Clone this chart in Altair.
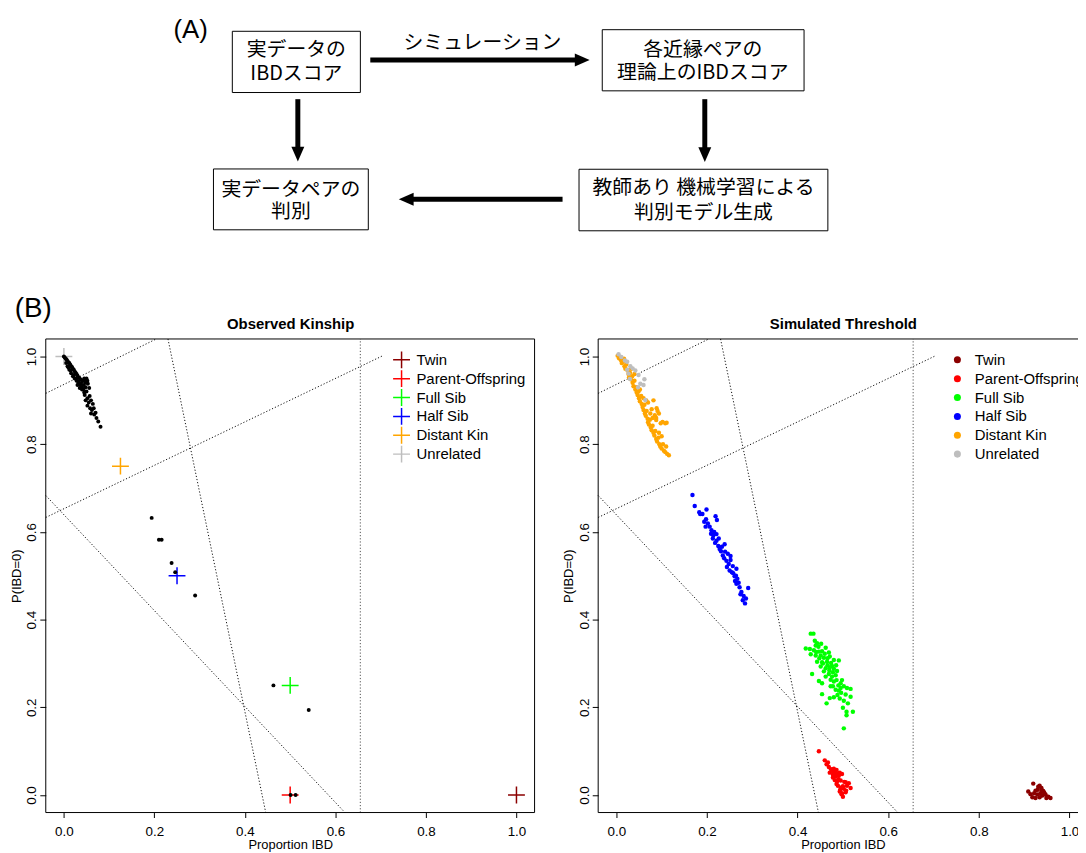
import altair as alt
import pandas as pd

# ---------------- (A) flowchart (page-pixel diagram coordinates) ----------------
box_x0 = [234, 606.7, 215, 583.3]
box_x1 = [363, 810, 371, 834]
box_y0 = [28.3, 26.7, 167, 167.3]
box_y1 = [90, 88.3, 228.3, 229.3]

flow_text = ["実データの", "IBDスコア", "各近縁ペアの", "理論上のIBDスコア",
             "実データペアの", "判別", "教師あり 機械学習による", "判別モデル生成",
             "シミュレーション"]
flow_text_x = [298.5, 298.5, 708, 708, 293, 293, 708.7, 708.7, 486]
flow_text_y = [46.7, 71.7, 46.7, 70, 188, 210.7, 186.7, 211.7, 40]

shaft_x0 = [373, 300, 710, 566.7]
shaft_y0 = [57.3, 96.7, 96.7, 197.5]
shaft_x1 = [581, 300, 710, 414.7]
shaft_y1 = [57.3, 146.5, 147, 197.5]

head_x = [594, 300, 710, 401.7]
head_y = [57.3, 159.5, 160, 197.5]
head_path = ["M0,0L-2.3,-1L-2.3,1Z", "M0,0L-1,-2.3L1,-2.3Z",
             "M0,0L-1,-2.3L1,-2.3Z", "M0,0L2.3,-1L2.3,1Z"]

panel_tags = ["(A)", "(B)"]
panel_tag_x = [192, 33.5]
panel_tag_y = [27.5, 308.3]
panel_tag_size = [26, 28]

# ---------------- (B) data ----------------
relations = ["Twin", "Parent-Offspring", "Full Sib", "Half Sib", "Distant Kin", "Unrelated"]
rel_colors = ["#8B0000", "#FF0000", "#00FF00", "#0000FF", "#FFA500", "#BEBEBE"]

# theoretical expectations (crosses)
theory_x = [1.0, 0.5, 0.5, 0.25, 0.125, 0.0]
theory_y = [0.0, 0.0, 0.25, 0.5, 0.75, 1.0]

# observed pairs
obs_x = [0.000, 0.002, 0.004, 0.006, 0.008, 0.010, 0.012, 0.014, 0.016, 0.018, 0.020, 0.022,
         0.024, 0.026, 0.028, 0.030, 0.032, 0.035, 0.038, 0.041, 0.045, 0.050, 0.052, 0.048,
         0.044, 0.040, 0.036, 0.032, 0.028, 0.024, 0.020, 0.016, 0.012, 0.008, 0.005, 0.010,
         0.015, 0.022, 0.027, 0.033, 0.038, 0.043, 0.048, 0.053, 0.056, 0.050, 0.046, 0.052,
         0.057, 0.048, 0.055, 0.060, 0.052, 0.058, 0.064, 0.062, 0.066, 0.060, 0.067, 0.070,
         0.072, 0.076, 0.081, 0.040, 0.035, 0.030, 0.045, 0.042, 0.047,
         0.194, 0.210, 0.216, 0.238, 0.246, 0.290, 0.463, 0.541, 0.501, 0.512]
obs_y = [1.000, 0.998, 0.995, 0.993, 0.990, 0.987, 0.985, 0.982, 0.978, 0.976, 0.972, 0.970,
         0.966, 0.963, 0.960, 0.957, 0.953, 0.950, 0.947, 0.944, 0.950, 0.950, 0.945, 0.940,
         0.935, 0.930, 0.935, 0.940, 0.945, 0.950, 0.955, 0.962, 0.970, 0.978, 0.985, 0.975,
         0.968, 0.958, 0.950, 0.943, 0.938, 0.925, 0.930, 0.938, 0.928, 0.920, 0.912, 0.905,
         0.910, 0.900, 0.895, 0.900, 0.888, 0.882, 0.892, 0.878, 0.882, 0.870, 0.868, 0.872,
         0.860, 0.852, 0.840, 0.925, 0.928, 0.935, 0.918, 0.945, 0.945,
         0.632, 0.582, 0.582, 0.529, 0.508, 0.455, 0.250, 0.194, 0.000, 0.000]

# simulated pairs
twin_x = [0.920, 0.909, 0.914, 0.918, 0.925, 0.931, 0.934, 0.939, 0.929, 0.940, 0.947, 0.953,
          0.958, 0.944, 0.922, 0.934, 0.925, 0.936, 0.949, 0.930, 0.942, 0.938]
twin_y = [0.026, 0.008, 0.002, -0.005, 0.010, 0.019, 0.021, 0.011, 0.001, -0.001, 0.001, -0.004,
          -0.007, 0.006, 0.004, -0.005, -0.007, 0.004, -0.007, 0.012, 0.009, 0.016]

po_x = [0.447, 0.460, 0.464, 0.469, 0.474, 0.480, 0.486, 0.493, 0.471, 0.478, 0.484, 0.491,
        0.498, 0.482, 0.487, 0.495, 0.506, 0.513, 0.517, 0.489, 0.496, 0.502, 0.493, 0.498,
        0.500, 0.506, 0.509, 0.484, 0.476, 0.467, 0.478, 0.490, 0.486, 0.494, 0.500, 0.507,
        0.480, 0.489, 0.497, 0.503]
po_y = [0.100, 0.079, 0.070, 0.064, 0.059, 0.054, 0.057, 0.051, 0.051, 0.046, 0.042, 0.044,
        0.048, 0.034, 0.031, 0.033, 0.029, 0.027, 0.016, 0.021, 0.017, 0.014, 0.008, 0.004,
        -0.004, 0.006, 0.021, 0.048, 0.055, 0.074, 0.040, 0.036, 0.025, 0.012, 0.020, 0.010,
        0.060, 0.048, 0.002, 0.030]

fs_x = [0.429, 0.435, 0.443, 0.440, 0.418, 0.427, 0.436, 0.447, 0.454, 0.462, 0.469, 0.429,
        0.440, 0.451, 0.458, 0.471, 0.480, 0.491, 0.443, 0.454, 0.465, 0.474, 0.451, 0.462,
        0.471, 0.480, 0.487, 0.432, 0.458, 0.469, 0.476, 0.484, 0.447, 0.454, 0.473, 0.480,
        0.495, 0.502, 0.509, 0.517, 0.473, 0.484, 0.491, 0.496, 0.454, 0.506, 0.517, 0.471,
        0.480, 0.493, 0.502, 0.511, 0.464, 0.500, 0.508, 0.522, 0.508, 0.502,
        0.438, 0.446, 0.452, 0.460, 0.448, 0.466, 0.476, 0.470, 0.462, 0.478, 0.486, 0.490,
        0.498, 0.488, 0.495, 0.478, 0.466, 0.456, 0.441, 0.485]
fs_y = [0.368, 0.368, 0.346, 0.341, 0.334, 0.333, 0.330, 0.327, 0.328, 0.336, 0.325, 0.321,
        0.318, 0.318, 0.313, 0.316, 0.308, 0.307, 0.304, 0.303, 0.304, 0.301, 0.293, 0.289,
        0.291, 0.288, 0.283, 0.276, 0.282, 0.276, 0.270, 0.273, 0.260, 0.255, 0.263, 0.259,
        0.255, 0.248, 0.244, 0.242, 0.248, 0.240, 0.238, 0.233, 0.230, 0.229, 0.224, 0.221,
        0.223, 0.220, 0.215, 0.209, 0.209, 0.199, 0.190, 0.190, 0.182, 0.152,
        0.352, 0.338, 0.345, 0.322, 0.312, 0.296, 0.294, 0.284, 0.270, 0.280, 0.262, 0.250,
        0.262, 0.228, 0.244, 0.248, 0.312, 0.300, 0.326, 0.296]

hs_x = [0.168, 0.173, 0.199, 0.185, 0.190, 0.219, 0.222, 0.194, 0.202, 0.197, 0.210, 0.216,
        0.221, 0.213, 0.221, 0.239, 0.225, 0.228, 0.246, 0.235, 0.243, 0.248, 0.257, 0.265,
        0.255, 0.261, 0.267, 0.265, 0.272, 0.291, 0.276, 0.281, 0.284, 0.279,
        0.206, 0.214, 0.218, 0.231, 0.238, 0.252, 0.244, 0.250, 0.258, 0.262, 0.270, 0.274,
        0.286, 0.226, 0.233, 0.240, 0.209, 0.198, 0.183, 0.252, 0.264]
hs_y = [0.684, 0.659, 0.651, 0.641, 0.641, 0.636, 0.627, 0.623, 0.619, 0.612, 0.604, 0.600,
        0.595, 0.585, 0.580, 0.572, 0.568, 0.561, 0.550, 0.546, 0.534, 0.527, 0.522, 0.516,
        0.508, 0.499, 0.493, 0.482, 0.474, 0.472, 0.463, 0.454, 0.437, 0.444,
        0.612, 0.592, 0.575, 0.556, 0.540, 0.536, 0.520, 0.512, 0.506, 0.488, 0.484, 0.458,
        0.448, 0.585, 0.566, 0.555, 0.596, 0.629, 0.645, 0.545, 0.500]

dk_x = [0.003, 0.006, 0.010, 0.012, 0.015, 0.018, 0.020, 0.022, 0.025, 0.027, 0.030, 0.028,
        0.032, 0.035, 0.036, 0.038, 0.040, 0.042, 0.044, 0.045, 0.047, 0.049, 0.050, 0.052,
        0.055, 0.056, 0.058, 0.060, 0.062, 0.063, 0.065, 0.067, 0.069, 0.070, 0.072, 0.074,
        0.076, 0.078, 0.080, 0.082, 0.084, 0.086, 0.088, 0.090, 0.093, 0.095, 0.097, 0.100,
        0.103, 0.105, 0.108, 0.112, 0.116, 0.070, 0.078, 0.085, 0.088, 0.098, 0.102, 0.080,
        0.060, 0.033, 0.017, 0.040, 0.052, 0.066, 0.075, 0.094, 0.100, 0.110,
        0.082, 0.089, 0.091, 0.111, 0.108, 0.088, 0.094]
dk_y = [1.002, 0.996, 0.992, 0.985, 0.988, 0.978, 0.972, 0.982, 0.968, 0.960, 0.963, 0.952,
        0.948, 0.955, 0.940, 0.932, 0.945, 0.925, 0.930, 0.918, 0.912, 0.920, 0.905, 0.898,
        0.910, 0.892, 0.885, 0.878, 0.890, 0.870, 0.865, 0.876, 0.858, 0.850, 0.845, 0.856,
        0.838, 0.832, 0.842, 0.826, 0.820, 0.830, 0.812, 0.806, 0.815, 0.800, 0.795, 0.790,
        0.800, 0.785, 0.782, 0.778, 0.775, 0.895, 0.880, 0.866, 0.860, 0.848, 0.851, 0.860,
        0.905, 0.972, 0.995, 0.960, 0.925, 0.900, 0.870, 0.826, 0.818, 0.795,
        0.900, 0.882, 0.876, 0.849, 0.848, 0.855, 0.870]

un_x = [0.005, 0.011, 0.019, 0.024, 0.031, 0.036, 0.042, 0.049, 0.062, 0.027, 0.048, 0.064,
        0.024, 0.030, 0.053, 0.060]
un_y = [1.005, 0.999, 0.991, 0.988, 0.978, 0.973, 0.968, 0.958, 0.948, 0.961, 0.930, 0.901,
        0.970, 0.949, 0.938, 0.935]

# classification threshold lines (segment end points, in data units)
thr_x = [0.655, 0.230, -0.04, -0.04, -0.04]
thr_y = [-0.04, 1.04, 0.683, 0.633, 0.916]
thr_x2 = [0.655, 0.446, 0.621, 0.705, 0.204]
thr_y2 = [1.04, -0.04, -0.04, 1.002, 1.04]
thr_col = ["#555555", "#111111", "#111111", "#111111", "#111111"]

# ---------------- frames ----------------
boxes = pd.DataFrame({"x0": box_x0, "x1": box_x1, "y0": box_y0, "y1": box_y1})
texts = pd.DataFrame({"t": flow_text, "x": flow_text_x, "y": flow_text_y})
shafts = pd.DataFrame({"x": shaft_x0, "y": shaft_y0, "x2": shaft_x1, "y2": shaft_y1})
heads = pd.DataFrame({"x": head_x, "y": head_y, "p": head_path})
tags = pd.DataFrame({"t": panel_tags, "x": panel_tag_x, "y": panel_tag_y, "s": panel_tag_size})

theory = pd.DataFrame({"rel": relations, "x": theory_x, "y": theory_y})
obs = pd.DataFrame({"x": obs_x, "y": obs_y})
sim = pd.concat([
    pd.DataFrame({"rel": "Twin", "x": twin_x, "y": twin_y}),
    pd.DataFrame({"rel": "Parent-Offspring", "x": po_x, "y": po_y}),
    pd.DataFrame({"rel": "Full Sib", "x": fs_x, "y": fs_y}),
    pd.DataFrame({"rel": "Half Sib", "x": hs_x, "y": hs_y}),
    pd.DataFrame({"rel": "Distant Kin", "x": dk_x, "y": dk_y}),
    pd.DataFrame({"rel": "Unrelated", "x": un_x, "y": un_y}),
], ignore_index=True)
thr = pd.DataFrame({"x": thr_x, "y": thr_y, "x2": thr_x2, "y2": thr_y2, "c": thr_col})
frame = pd.DataFrame({"x0": [-0.04], "x1": [1.04], "y0": [-0.04], "y1": [1.04]})

W, H = 1078, 845
FONT = "Liberation Sans"
JP = "Noto Sans CJK JP"

fx = alt.Scale(domain=[8, 8 + W], range=[0, W], nice=False, zero=False)
fy = alt.Scale(domain=[8, 8 + H], range=[0, H], nice=False, zero=False)

lx = alt.Scale(domain=[-0.04, 1.04], range=[38.06, 530.5], nice=False, zero=False)
rx = alt.Scale(domain=[-0.04, 1.04], range=[594.6, 1087.7], nice=False, zero=False)
py = alt.Scale(domain=[-0.04, 1.04], range=[807.4, 330.3], nice=False, zero=False)

color_scale = alt.Scale(domain=relations, range=rel_colors)
CROSS = "M-1,0L1,0M0,-1L0,1"
ticks_vals = [0.0, 0.2, 0.4, 0.6, 0.8, 1.0]


def x_axis():
    return alt.Axis(orient="bottom", offset=-(H - 807.4), values=ticks_vals, format=".1f",
                    grid=False, domain=False, tickSize=5, tickColor="black", tickWidth=1,
                    labelFont=FONT, labelFontSize=13.5, labelColor="black", labelPadding=7,
                    labelFlush=False, title="Proportion IBD", titleFont=FONT, titleFontSize=13,
                    titleFontWeight="normal", titleColor="black", titlePadding=1, minExtent=0)


def y_axis(left_px):
    return alt.Axis(orient="left", offset=-left_px, values=ticks_vals, format=".1f",
                    grid=False, domain=False, tickSize=6, tickColor="black", tickWidth=1,
                    labelFont=FONT, labelFontSize=13.5, labelColor="black", labelPadding=1,
                    labelAngle=270, labelAlign="center", labelBaseline="bottom",
                    labelFlush=False, title="P(IBD=0)", titleFont=FONT, titleFontSize=13,
                    titleFontWeight="normal", titleColor="black", titlePadding=1.5, minExtent=0)


def frame_layer(xs, title):
    return alt.Chart(frame).mark_rect(fillOpacity=0, stroke="black", strokeWidth=1).encode(
        x=alt.X("x0:Q", scale=xs, axis=alt.Axis(
            orient="top", offset=-330.3, title=title, labels=False, ticks=False, domain=False,
            grid=False, titleFont=FONT, titleFontSize=15, titleFontWeight="bold",
            titleColor="black", titlePadding=7.5, minExtent=0)),
        x2="x1:Q",
        y=alt.Y("y0:Q", scale=py, axis=None),
        y2="y1:Q",
    )


def thr_layer(xs):
    return alt.Chart(thr).mark_rule(strokeDash=[1.2, 2], strokeWidth=1).encode(
        x=alt.X("x:Q", scale=xs, axis=None), x2="x2:Q",
        y=alt.Y("y:Q", scale=py, axis=None), y2="y2:Q",
        color=alt.Color("c:N", scale=None),
    )


# ----- flowchart layers -----
box_layer = alt.Chart(boxes).mark_rect(fill="white", stroke="black", strokeWidth=1).encode(
    x=alt.X("x0:Q", scale=fx, axis=None), x2="x1:Q",
    y=alt.Y("y0:Q", scale=fy, axis=None), y2="y1:Q")
text_layer = alt.Chart(texts).mark_text(font=JP, fontSize=20, align="center",
                                        baseline="middle", color="black").encode(
    x=alt.X("x:Q", scale=fx, axis=None), y=alt.Y("y:Q", scale=fy, axis=None), text="t:N")
shaft_layer = alt.Chart(shafts).mark_rule(strokeWidth=5, color="black", strokeCap="butt").encode(
    x=alt.X("x:Q", scale=fx, axis=None), x2="x2:Q",
    y=alt.Y("y:Q", scale=fy, axis=None), y2="y2:Q")
head_layer = alt.Chart(heads).mark_point(filled=True, size=169, color="black", opacity=1,
                                         strokeWidth=0).encode(
    x=alt.X("x:Q", scale=fx, axis=None), y=alt.Y("y:Q", scale=fy, axis=None),
    shape=alt.Shape("p:N", scale=None))
tag_layer = alt.Chart(tags).mark_text(font=FONT, align="center", baseline="middle",
                                      color="black").encode(
    x=alt.X("x:Q", scale=fx, axis=None), y=alt.Y("y:Q", scale=fy, axis=None), text="t:N",
    size=alt.Size("s:Q", scale=None))

# ----- left panel: observed kinship -----
left_cross = alt.Chart(theory).mark_point(shape=CROSS, filled=False, size=289, strokeWidth=1.5,
                                          opacity=1).encode(
    x=alt.X("x:Q", scale=lx, axis=None), y=alt.Y("y:Q", scale=py, axis=None),
    color=alt.Color("rel:N", scale=color_scale, legend=alt.Legend(
        orient="none", legendX=387, legendY=341.8, title=None, padding=0,
        labelFont=FONT, labelFontSize=15, labelColor="black", symbolType=CROSS,
        symbolSize=289, symbolStrokeWidth=1.5, rowPadding=0, clipHeight=19,
        labelOffset=5.5)))
left_dots = alt.Chart(obs).mark_circle(size=16, color="black", opacity=1).encode(
    x=alt.X("x:Q", scale=lx, axis=x_axis()), y=alt.Y("y:Q", scale=py, axis=y_axis(38.06)))

# ----- right panel: simulated threshold -----
right_dots = alt.Chart(sim).mark_circle(size=20, opacity=1).encode(
    x=alt.X("x:Q", scale=rx, axis=x_axis()), y=alt.Y("y:Q", scale=py, axis=y_axis(594.6)),
    color=alt.Color("rel:N", scale=color_scale, legend=alt.Legend(
        orient="none", legendX=949, legendY=343.8, title=None, padding=0,
        labelFont=FONT, labelFontSize=15, labelColor="black", symbolType="circle",
        symbolSize=50, rowPadding=3, labelOffset=10)),
    order=alt.Order("idx:Q"),
).transform_window(idx="row_number()")

chart = alt.layer(
    box_layer, shaft_layer, head_layer, text_layer, tag_layer,
    thr_layer(lx), left_cross, left_dots, frame_layer(lx, "Observed Kinship"),
    thr_layer(rx), right_dots, frame_layer(rx, "Simulated Threshold"),
).resolve_scale(
    x="independent", y="independent", color="independent", shape="independent", size="independent"
).properties(
    width=W, height=H, autosize=alt.AutoSizeParams(type="none"), padding=0
).configure_view(strokeWidth=0)

chart.save("out.html", embed_options={"renderer": "svg", "actions": False})
